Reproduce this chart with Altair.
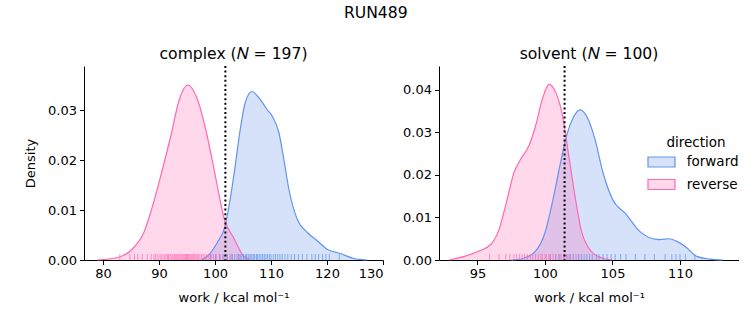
import altair as alt
import pandas as pd

FONT = "DejaVu Sans"
DIRECTIONS = ["forward", "reverse"]
FILLS = ["rgba(100,149,237,0.27)", "rgba(255,105,180,0.26)"]
STROKES = ["#6495ED", "#FF69B4"]

# ---- complex panel: KDE curves ----
complex_rev_x = [79.0, 82.6, 85.5, 87.3, 88.5, 90.3, 92.1, 93.6, 95.1, 96.9, 98.6, 99.5, 100.2, 101.7, 103.3, 105.1, 106.3]
complex_rev_d = [0.0, 0.0005, 0.0025, 0.0055, 0.0095, 0.0168, 0.0248, 0.0320, 0.0350, 0.0320, 0.0248, 0.0200, 0.0160, 0.0080, 0.0045, 0.0008, 0.0]
complex_fwd_x = [97.5, 98.7, 100.4, 101.8, 102.7, 103.6, 104.5, 105.4, 106.6, 107.8, 109.3, 110.2, 111.4, 112.3, 113.2, 114.7, 116.5, 118.3, 120.1, 122.4, 124.8, 127.2]
complex_fwd_d = [0.0, 0.0008, 0.0035, 0.0068, 0.0121, 0.0188, 0.0261, 0.0315, 0.0337, 0.0325, 0.0301, 0.0288, 0.0255, 0.0201, 0.0141, 0.0081, 0.0055, 0.0038, 0.0021, 0.0013, 0.0003, 0.0]

# ---- solvent panel ----
solvent_rev_x = [92.9, 94.1, 95.1, 96.0, 96.6, 97.2, 97.7, 98.2, 98.8, 99.3, 99.8, 100.3, 100.8, 101.3, 101.8, 102.3, 102.7, 103.2, 103.6, 104.3, 105.0]
solvent_rev_d = [0.0, 0.0009, 0.0021, 0.0037, 0.0072, 0.0143, 0.0205, 0.0237, 0.0268, 0.0315, 0.0378, 0.0413, 0.0394, 0.0339, 0.0237, 0.0135, 0.0068, 0.0030, 0.0015, 0.0004, 0.0]
solvent_fwd_x = [97.5, 98.3, 99.3, 100.0, 100.6, 101.1, 101.6, 102.1, 102.6, 103.2, 103.7, 104.3, 105.0, 106.0, 107.0, 108.0, 108.5, 109.2, 109.7, 110.5, 111.2, 112.2, 113.2]
solvent_fwd_d = [0.0, 0.0003, 0.0021, 0.0064, 0.0143, 0.0221, 0.0292, 0.0335, 0.0353, 0.0331, 0.0284, 0.0205, 0.0143, 0.0108, 0.0068, 0.0050, 0.0048, 0.0050, 0.0045, 0.0029, 0.0009, 0.0002, 0.0]

# ---- rug samples (estimated tick positions) ----
complex_rev_rug = [83.0, 84.8, 85.6, 86.2, 87.0, 87.9, 88.6, 89.1, 89.4, 89.8, 90.2, 90.5, 90.9, 91.2, 91.5, 91.7, 92.0, 92.3, 92.5, 92.8, 93.0, 93.2, 93.4, 93.6, 93.9, 94.1, 94.3, 94.5, 94.7, 94.9, 95.1, 95.3, 95.5, 95.7, 95.9, 96.1, 96.3, 96.6, 96.8, 97.0, 97.3, 97.6, 97.9, 98.2, 98.5, 98.9, 99.3, 99.7, 100.2, 100.8, 101.4, 102.1, 103.0, 104.3]
complex_fwd_rug = [99.2, 100.1, 100.9, 101.6, 102.2, 102.7, 103.1, 103.5, 103.9, 104.2, 104.5, 104.8, 105.1, 105.4, 105.6, 105.9, 106.1, 106.4, 106.6, 106.9, 107.1, 107.4, 107.6, 107.9, 108.2, 108.5, 108.8, 109.1, 109.4, 109.7, 110.0, 110.4, 110.8, 111.2, 111.6, 112.0, 112.5, 113.0, 113.6, 114.2, 114.9, 115.6, 116.4, 117.3, 117.9, 118.5, 119.2, 119.8, 120.4, 122.2]
solvent_rev_rug = [95.9, 96.6, 97.1, 97.4, 97.7, 97.9, 98.1, 98.3, 98.5, 98.7, 98.9, 99.1, 99.3, 99.5, 99.7, 99.8, 100.0, 100.1, 100.3, 100.4, 100.6, 100.8, 101.0, 101.2, 101.4, 101.6, 101.8, 102.1, 102.5]
solvent_fwd_rug = [100.4, 100.8, 101.1, 101.4, 101.7, 101.9, 102.1, 102.3, 102.5, 102.7, 102.9, 103.1, 103.3, 103.5, 103.8, 104.0, 104.3, 104.6, 104.9, 105.2, 105.6, 106.0, 106.7, 107.4, 108.1, 108.9, 109.4, 109.7, 110.0, 110.4, 111.1]

complex_mean = 101.85
solvent_mean = 101.45

complex_xticks = [80, 90, 100, 110, 120, 130]
complex_yticks = [0.0, 0.01, 0.02, 0.03]
solvent_xticks = [95, 100, 105, 110]
solvent_yticks = [0.0, 0.01, 0.02, 0.03, 0.04]

W1, W2, H = 299, 300, 194

legend = alt.Legend(
    title="direction", orient="none", legendX=570, legendY=70,
    symbolType="M-2,-0.74L2,-0.74L2,0.74L-2,0.74Z", symbolSize=182.25,
    symbolStrokeWidth=1.2, labelOffset=17.75, rowPadding=7.5,
    titleFontSize=13.5, labelFontSize=13.5, titleFontWeight="normal",
    titleFont=FONT, labelFont=FONT, titleAnchor="middle", titlePadding=5,
    titleColor="black", labelColor="black", padding=0,
)


def curves_frame(fx, fd, rx, rd):
    return pd.DataFrame({
        "work": fx + rx,
        "density": fd + rd,
        "direction": ["forward"] * len(fx) + ["reverse"] * len(rx),
    })


def rug_frame(f, r):
    return pd.DataFrame({
        "work": f + r,
        "direction": ["forward"] * len(f) + ["reverse"] * len(r),
    })


def panel(title, width, curves, rugs, mean, xdom, ydom, xticks, yticks, ytitle):
    xs = alt.Scale(domain=xdom, nice=False, zero=False)
    ys = alt.Scale(domain=ydom, nice=False, zero=False)
    xax = alt.Axis(values=xticks, title="work / kcal mol⁻¹", grid=False, format="d")
    if ytitle:
        yax = alt.Axis(values=yticks, title=ytitle, grid=False, format=".2f")
    else:
        yax = alt.Axis(values=yticks, title=None, grid=False, format=".2f")
    x = alt.X("work:Q", scale=xs, axis=xax)
    y = alt.Y("density:Q", scale=ys, axis=yax, stack=None)
    fill = alt.Fill("direction:N", scale=alt.Scale(domain=DIRECTIONS, range=FILLS), legend=legend)
    stroke = alt.Stroke("direction:N", scale=alt.Scale(domain=DIRECTIONS, range=STROKES), legend=legend)

    area = alt.Chart(curves).mark_area(interpolate="monotone").encode(x=x, y=y, fill=fill)
    line = alt.Chart(curves).mark_line(interpolate="monotone", strokeWidth=1.2).encode(
        x=x, y=y, stroke=stroke)
    rug = alt.Chart(rugs).mark_rule(strokeWidth=1, opacity=0.75).encode(
        x=alt.X("work:Q", scale=xs, axis=xax),
        y=alt.value(H - 6), y2=alt.value(H),
        stroke=alt.Stroke("direction:N", scale=alt.Scale(domain=DIRECTIONS, range=STROKES), legend=None),
    )
    vline = alt.Chart(pd.DataFrame({"work": [mean]})).mark_rule(
        color="black", strokeWidth=2, strokeDash=[2, 2.6]).encode(
        x=alt.X("work:Q", scale=xs, axis=xax), y=alt.value(0), y2=alt.value(H))
    return alt.layer(area, line, rug, vline).properties(
        width=width, height=H,
        title=alt.TitleParams(title, fontSize=15.6, font=FONT, fontWeight="normal", offset=2, color="black"),
    )


left = panel("complex (𝑁 = 197)", W1,
             curves_frame(complex_fwd_x, complex_fwd_d, complex_rev_x, complex_rev_d),
             rug_frame(complex_fwd_rug, complex_rev_rug), complex_mean,
             [76.6, 130.0], [0, 0.0388], complex_xticks, complex_yticks, "Density")
right = panel("solvent (𝑁 = 100)", W2,
              curves_frame(solvent_fwd_x, solvent_fwd_d, solvent_rev_x, solvent_rev_d),
              rug_frame(solvent_fwd_rug, solvent_rev_rug), solvent_mean,
              [92.15, 114.37], [0, 0.0456], solvent_xticks, solvent_yticks, None)

chart = alt.hconcat(left, right, spacing=56, bounds="flush").resolve_scale(
    x="independent", y="independent", fill="shared", stroke="shared"
).properties(
    title=alt.TitleParams("RUN489", fontSize=15.6, font=FONT, fontWeight="normal",
                          anchor="middle", color="black", offset=26, dx=-6),
    padding={"left": 24, "top": 5, "right": 0, "bottom": 0},
).configure_view(stroke=None).configure_axis(
    domainColor="black", tickColor="black", labelColor="black", titleColor="black",
    labelFont=FONT, titleFont=FONT, labelFontSize=13, titleFontSize=13,
    titleFontWeight="normal", tickSize=4.5, labelPadding=3, domainWidth=1, tickWidth=1,
).configure_axisX(titlePadding=11).configure_axisY(titlePadding=10)

chart.save("out.html", embed_options={"renderer": "svg", "actions": False})
